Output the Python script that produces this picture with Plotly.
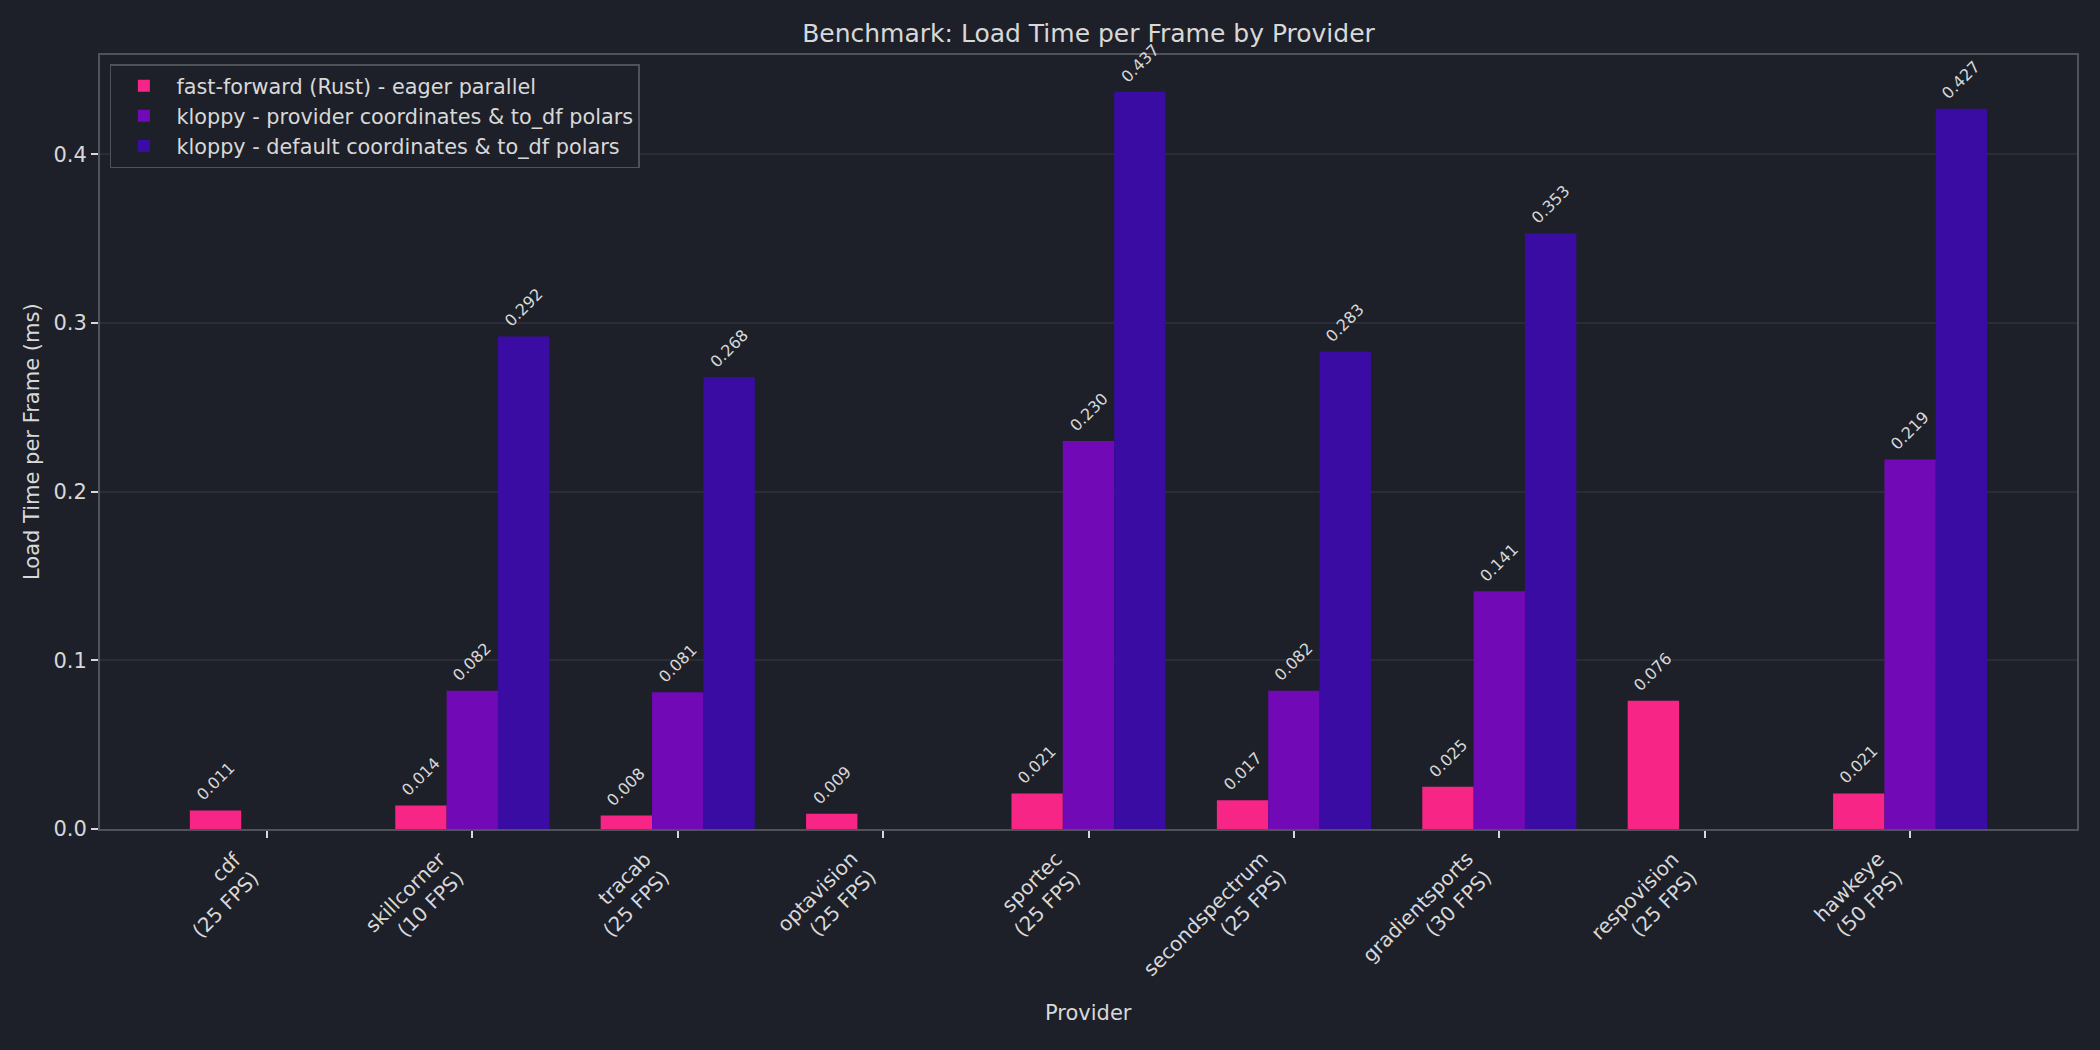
import plotly.graph_objects as go

providers = ["cdf", "skillcorner", "tracab", "optavision", "sportec",
             "secondspectrum", "gradientsports", "respovision", "hawkeye"]
fps = [25, 10, 25, 25, 25, 25, 30, 25, 50]
tick_labels = [f"{p}<br>({f} FPS)" for p, f in zip(providers, fps)]

series_names = [
    "fast-forward (Rust) - eager parallel",
    "kloppy - provider coordinates & to_df polars",
    "kloppy - default coordinates & to_df polars",
]
fast_forward = [0.011, 0.014, 0.008, 0.009, 0.021, 0.017, 0.025, 0.076, 0.021]
kloppy_provider = [None, 0.082, 0.081, None, 0.230, 0.082, 0.141, None, 0.219]
kloppy_default = [None, 0.292, 0.268, None, 0.437, 0.283, 0.353, None, 0.427]
colors = ["#F72585", "#7209B7", "#3A0CA3"]

y_ticks = [0.0, 0.1, 0.2, 0.3, 0.4]

BG = "#1e2029"
TEXT = "#d8d8d8"
SPINE = "#50525a"
GRID = "#2b2d36"
FONT = "DejaVu Sans"

xs = list(range(len(providers)))
all_series = [fast_forward, kloppy_provider, kloppy_default]
bar_w = 0.25

fig = go.Figure()
for name, vals, col in zip(series_names, all_series, colors):
    fig.add_trace(go.Bar(x=xs, y=vals, name=name, marker=dict(color=col, line=dict(width=0))))

annotations = []
for k, vals in enumerate(all_series):
    off = (k - 1) * bar_w
    for i, v in enumerate(vals):
        if v is None:
            continue
        annotations.append(dict(
            x=i + off, y=v, xref="x", yref="y", text=f"{v:.3f}",
            showarrow=False, textangle=-45, xanchor="center", yanchor="bottom",
            yshift=3, font=dict(family=FONT, size=16, color=TEXT)))

# rotated category labels (right-aligned, like the reference)
for i, lab in zip(xs, tick_labels):
    annotations.append(dict(
        x=i, y=0, xref="x", yref="y", text=lab, showarrow=False,
        textangle=-45, xanchor="right", yanchor="top", align="right",
        yshift=-15, font=dict(family=FONT, size=20, color=TEXT)))

ymax = max(v for s in all_series for v in s if v is not None) * 1.05

annotations.append(dict(text="Provider", xref="paper", yref="paper", x=0.5, y=0,
                        yshift=-184, showarrow=False, xanchor="center", yanchor="middle",
                        font=dict(family=FONT, size=21, color=TEXT)))
annotations.append(dict(text="Load Time per Frame (ms)", xref="paper", yref="paper", x=0, y=0.5,
                        xshift=-68, showarrow=False, textangle=-90, xanchor="center", yanchor="middle",
                        font=dict(family=FONT, size=21, color=TEXT)))

fig.update_layout(
    width=2100, height=1050,
    paper_bgcolor=BG, plot_bgcolor=BG,
    margin=dict(l=100, r=23, t=55, b=221),
    barmode="group", bargap=0.25, bargroupgap=0,
    font=dict(family=FONT, size=21, color=TEXT),
    title=dict(text="Benchmark: Load Time per Frame by Provider", x=0.5, xanchor="center",
               xref="paper", y=1 - 33 / 1050, yanchor="middle",
               font=dict(family=FONT, size=25, color=TEXT)),
    legend=dict(x=0.005, y=0.988, xanchor="left", yanchor="top", bgcolor=BG,
                bordercolor=SPINE, borderwidth=1.5, itemwidth=55,
                font=dict(family=FONT, size=20.8, color=TEXT)),
    annotations=annotations,
    showlegend=True,
)
fig.update_xaxes(
    range=[-0.8125, len(providers) - 1 + 0.8125],
    tickmode="array", tickvals=xs, showticklabels=False,
    ticks="outside", ticklen=7, tickwidth=1.5, tickcolor=TEXT,
    showgrid=False, zeroline=False,
    showline=True, linecolor=SPINE, linewidth=2, mirror=True,
)
fig.update_yaxes(
    range=[0, ymax], tickmode="array", tickvals=y_ticks,
    ticktext=[f"{t:.1f}" for t in y_ticks],
    ticks="outside", ticklen=7, tickwidth=1.5, tickcolor=TEXT,
    showgrid=True, gridcolor=GRID, gridwidth=1.5, zeroline=False,
    showline=True, linecolor=SPINE, linewidth=2, mirror=True,
    tickfont=dict(family=FONT, size=21, color=TEXT),
)

fig.write_html("out.html")
